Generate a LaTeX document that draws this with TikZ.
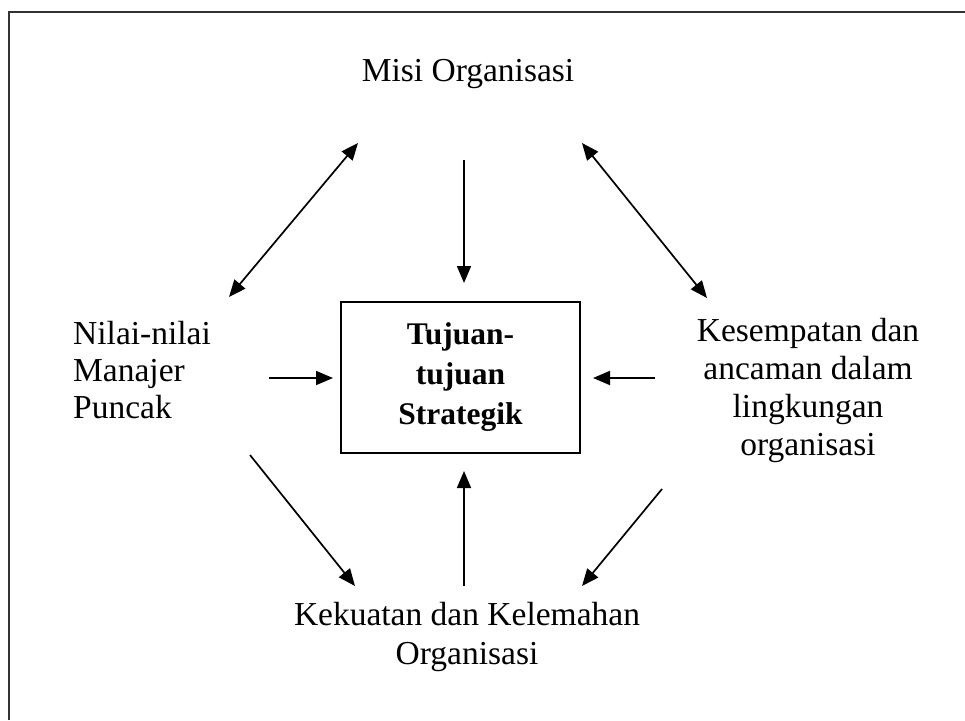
\documentclass[tikz,border=0pt]{standalone}
\usepackage{fontspec}
\setmainfont{Liberation Serif}
\usetikzlibrary{arrows.meta}
\begin{document}
\begin{tikzpicture}[x=1pt,y=-1pt,
  lbl/.style={inner sep=0pt, font=\fontsize{33.5}{37.5}\selectfont},
  goalbox/.style={draw, line width=1.6pt, inner sep=0pt, minimum width=239pt,
    minimum height=151pt, align=center, font=\fontsize{31.5}{40}\selectfont\bfseries},
  tip/.style={Triangle[length=17pt,width=14pt]},
  conn/.style={line width=1.7pt, -{Triangle[length=17pt,width=14pt]}},
  biconn/.style={line width=1.7pt, {Triangle[length=17pt,width=14pt]}-{Triangle[length=17pt,width=14pt]}}]
\useasboundingbox (0,0) rectangle (965,720);
% frame edges
\draw[line width=2.2pt, black!80] (9,720) -- (9,12) -- (965,12);

% labels
\node[lbl] (mission) at (468,74) {Misi Organisasi};
\node[goalbox] (goal) at (460.5,377.5) {Tujuan-\\tujuan\\Strategik};
\node[lbl, align=left, anchor=west, font=\fontsize{33.5}{37}\selectfont] (values) at (73,370) {Nilai-nilai\\Manajer\\Puncak};
\node[lbl, align=center, font=\fontsize{33.5}{38}\selectfont] (env) at (808,390) {Kesempatan dan\\ancaman dalam\\lingkungan\\organisasi};
\node[lbl, align=center, font=\fontsize{33.5}{39}\selectfont] (strength) at (467,637) {Kekuatan dan Kelemahan\\Organisasi};

% connector end points
\coordinate (tlA) at (229,297);
\coordinate (tlB) at (358,143);
\coordinate (tcA) at (464,160);
\coordinate (tcB) at (464,283);
\coordinate (trA) at (582,143);
\coordinate (trB) at (707,298);
\coordinate (mlA) at (269,378);
\coordinate (mlB) at (333,378);
\coordinate (mrA) at (655,378);
\coordinate (mrB) at (593,378);
\coordinate (blA) at (250,455);
\coordinate (blB) at (355,586);
\coordinate (bcA) at (464,586);
\coordinate (bcB) at (464,471);
\coordinate (brA) at (662,489);
\coordinate (brB) at (582,586);

% connectors
\draw[biconn] (tlA) -- (tlB);
\draw[conn] (tcA) -- (tcB);
\draw[biconn] (trA) -- (trB);
\draw[conn] (mlA) -- (mlB);
\draw[conn] (mrA) -- (mrB);
\draw[conn] (blA) -- (blB);
\draw[conn] (bcA) -- (bcB);
\draw[conn] (brA) -- (brB);
\end{tikzpicture}
\end{document}
